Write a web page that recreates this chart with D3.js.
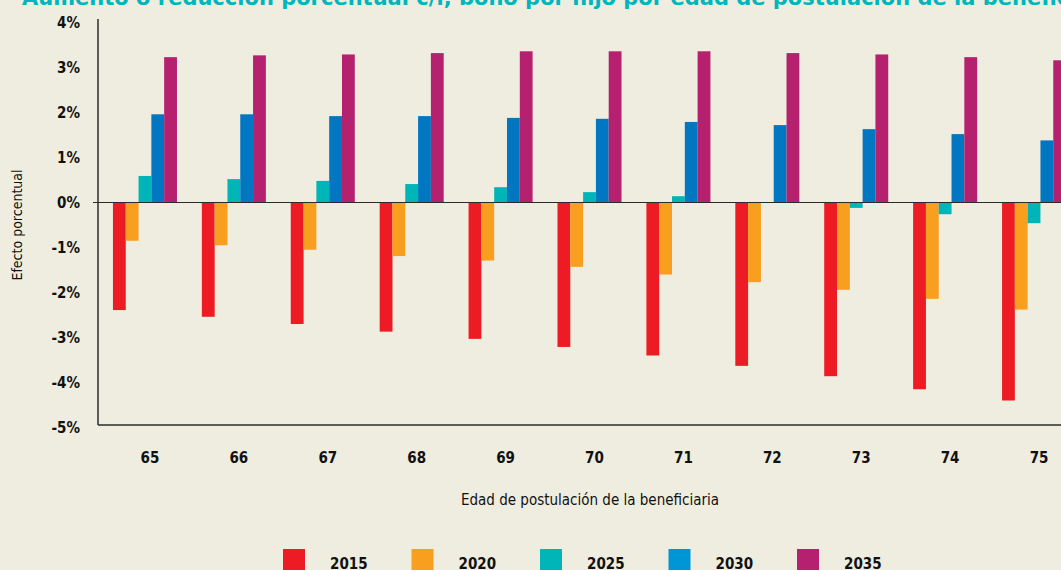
<!DOCTYPE html>
<html>
<head>
<meta charset="utf-8">
<script src="https://cdn.jsdelivr.net/npm/d3@7"></script>
<style>
    body { margin: 0; background: #efede0; overflow: hidden; }
    svg { display: block; }
    text { font-family: "Liberation Sans Narrow", "DejaVu Sans Condensed", "Roboto", sans-serif; fill: #111; }
    .title { font-family: "DejaVu Sans", sans-serif; font-weight: bold; fill: #00b5bd; }
</style>
</head>
<body>
<div id="chart"></div>
<script>
// Data
const ages = [65, 66, 67, 68, 69, 70, 71, 72, 73, 74, 75];
const years = ['2015', '2020', '2025', '2030', '2035'];
const y2015 = [-2.39, -2.54, -2.70, -2.87, -3.03, -3.21, -3.40, -3.63, -3.86, -4.15, -4.40];
const y2020 = [-0.85, -0.95, -1.05, -1.19, -1.29, -1.43, -1.60, -1.77, -1.94, -2.14, -2.38];
const y2025 = [0.59, 0.52, 0.48, 0.41, 0.34, 0.23, 0.14, 0.0, -0.12, -0.26, -0.46];
const y2030 = [1.96, 1.96, 1.92, 1.92, 1.88, 1.86, 1.79, 1.72, 1.63, 1.52, 1.38];
const y2035 = [3.23, 3.27, 3.29, 3.32, 3.36, 3.36, 3.36, 3.32, 3.29, 3.23, 3.16];
const yTicks = [4, 3, 2, 1, 0, -1, -2, -3, -4, -5];

const series = [y2015, y2020, y2025, y2030, y2035];
const barColors = ['#ed1c24', '#f89f1f', '#00b5b8', '#0077c0', '#b5206f'];
const legendColors = ['#ed1c24', '#f89f1f', '#00b5b8', '#0096d6', '#b5206f'];

const width = 1061, height = 570;

const svg = d3.select('#chart')
    .append('svg')
    .attr('width', width)
    .attr('height', height);

// Title (partly cut off at top, as in the source)
svg.append('text')
    .attr('class', 'title')
    .attr('x', 22)
    .attr('y', 5)
    .style('font-size', '21px')
    .text('Aumento o reducción porcentual c/r, bono por hijo por edad de postulación de la beneficiaria');

// Scales
const x0 = d3.scaleBand()
    .domain(ages)
    .range([100.5, 1078.5])
    .paddingInner(0.28)
    .paddingOuter(0.14);

const x1 = d3.scaleBand()
    .domain(years)
    .range([0, x0.bandwidth()]);

const y = d3.scaleLinear()
    .domain([-5, 4])
    .range([427.5, 22.5]);

// Bars
const groups = svg.append('g')
    .selectAll('g')
    .data(ages)
    .join('g')
    .attr('transform', d => `translate(${x0(d)},0)`);

groups.selectAll('rect')
    .data((d, i) => years.map((yr, s) => ({ yr, s, v: series[s][i] })))
    .join('rect')
    .attr('x', d => x1(d.yr))
    .attr('width', x1.bandwidth())
    .attr('y', d => y(Math.max(0, d.v)))
    .attr('height', d => Math.abs(y(d.v) - y(0)))
    .attr('fill', d => barColors[d.s]);

// Axes lines
const axisColor = '#2b2b2b';
svg.append('line')
    .attr('x1', 98).attr('x2', 98)
    .attr('y1', 19).attr('y2', 425)
    .attr('stroke', axisColor).attr('stroke-width', 1.5);
svg.append('line')
    .attr('x1', 98).attr('x2', width)
    .attr('y1', 425).attr('y2', 425)
    .attr('stroke', axisColor).attr('stroke-width', 1.5);
svg.append('line')
    .attr('x1', 93).attr('x2', width)
    .attr('y1', y(0)).attr('y2', y(0))
    .attr('stroke', axisColor).attr('stroke-width', 1.2);

// Y tick labels
svg.append('g')
    .selectAll('text')
    .data(yTicks)
    .join('text')
    .attr('x', 80)
    .attr('y', d => y(d))
    .attr('dy', '0.35em')
    .attr('text-anchor', 'end')
    .style('font-size', '15px')
    .style('font-weight', 'bold')
    .text(d => `${d}%`);

// X tick labels
svg.append('g')
    .selectAll('text')
    .data(ages)
    .join('text')
    .attr('x', d => x0(d) + x0.bandwidth() / 2 + 5)
    .attr('y', 463)
    .attr('text-anchor', 'middle')
    .style('font-size', '15px')
    .style('font-weight', 'bold')
    .text(d => d);

// Axis titles
svg.append('text')
    .attr('x', 590)
    .attr('y', 505)
    .attr('text-anchor', 'middle')
    .style('font-size', '15px')
    .text('Edad de postulación de la beneficiaria');

svg.append('text')
    .attr('transform', 'translate(22,225) rotate(-90)')
    .attr('text-anchor', 'middle')
    .style('font-size', '14px')
    .text('Efecto porcentual');

// Legend
const legend = svg.append('g')
    .selectAll('g')
    .data(years)
    .join('g')
    .attr('transform', (d, i) => `translate(${283 + i * 128.5},549)`);

legend.append('rect')
    .attr('width', 22)
    .attr('height', 22)
    .attr('fill', (d, i) => legendColors[i]);

legend.append('text')
    .attr('x', 47)
    .attr('y', 20)
    .attr('text-anchor', 'start')
    .style('font-size', '15px')
    .style('font-weight', 'bold')
    .text(d => d);
</script>
</body>
</html>
